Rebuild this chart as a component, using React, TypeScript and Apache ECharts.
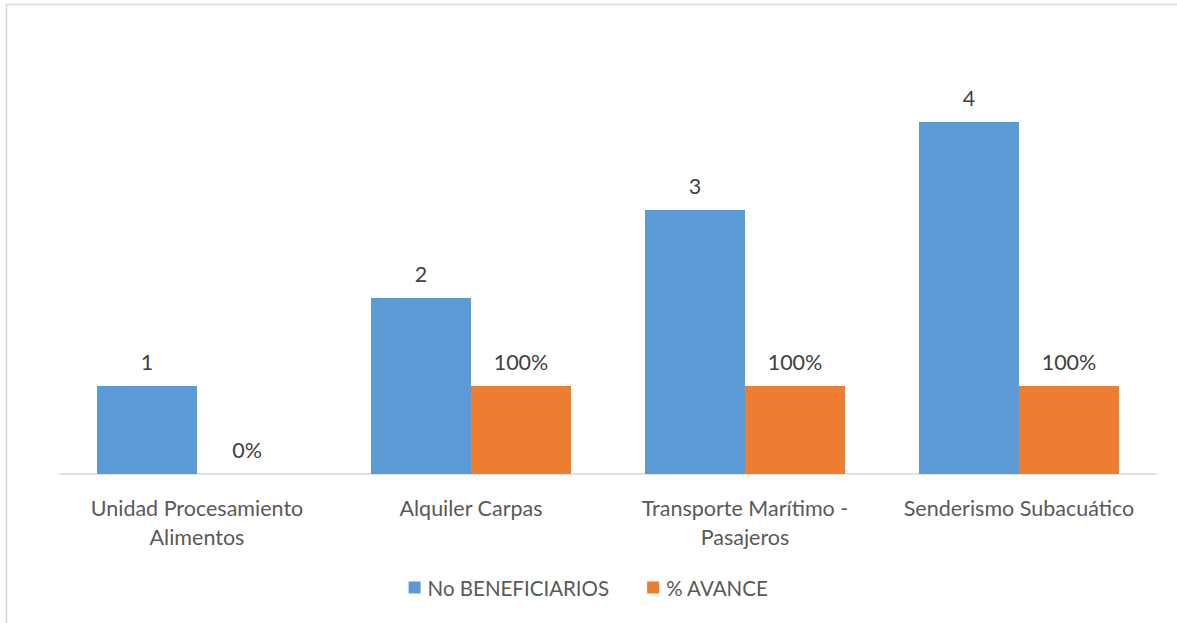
import React, { useEffect, useRef } from "react";
import * as echarts from "echarts";

const categories = [
  "Unidad Procesamiento\nAlimentos",
  "Alquiler Carpas",
  "Transporte Marítimo -\nPasajeros",
  "Senderismo Subacuático",
];
const beneficiarios = [1, 2, 3, 4];
const avance = [0, 1, 1, 1];
const seriesNames = ["No BENEFICIARIOS", "% AVANCE"];

export default function App() {
  const ref = useRef<HTMLDivElement>(null);
  useEffect(() => {
    document.body.style.margin = "0";
    const chart = echarts.init(ref.current!, null, { renderer: "svg" });
    const font = "Lato, 'Open Sans', sans-serif";
    chart.setOption({
      animation: false,
      backgroundColor: "#ffffff",
      graphic: [
        {
          type: "rect",
          shape: { x: 6.5, y: 4.5, width: 1300, height: 700 },
          style: { fill: "none", stroke: "#d9d9d9", lineWidth: 1.5 },
          silent: true,
        },
      ],
      legend: {
        bottom: 20,
        left: "center",
        itemWidth: 12,
        itemHeight: 12,
        itemGap: 38,
        icon: "rect",
        textStyle: { color: "#595959", fontSize: 20.5, fontFamily: font, padding: [0, 0, 0, 2] },
        data: seriesNames,
      },
      grid: { left: 60, right: 21, top: 34, height: 440, containLabel: false },
      xAxis: {
        type: "category",
        data: categories,
        axisLine: { lineStyle: { color: "#d9d9d9", width: 1.5 } },
        axisTick: { show: false },
        axisLabel: {
          color: "#595959",
          fontSize: 21.5,
          fontFamily: font,
          lineHeight: 29,
          margin: 19,
          interval: 0,
        },
      },
      yAxis: {
        type: "value",
        min: 0,
        max: 5,
        show: false,
        splitLine: { show: false },
      },
      series: [
        {
          name: seriesNames[0],
          type: "bar",
          data: beneficiarios,
          barWidth: 100,
          barGap: "0%",
          itemStyle: { color: "#5b9bd5" },
          label: {
            show: true,
            position: "top",
            distance: 13,
            color: "#404040",
            fontSize: 21.5,
            fontFamily: font,
          },
        },
        {
          name: seriesNames[1],
          type: "bar",
          data: avance,
          barWidth: 100,
          barGap: "0%",
          itemStyle: { color: "#ed7d31" },
          label: {
            show: true,
            position: "top",
            distance: 13,
            color: "#404040",
            fontSize: 21.5,
            fontFamily: font,
            formatter: (p: any) => Math.round(p.value * 100) + "%",
          },
        },
      ],
    });
    return () => chart.dispose();
  }, []);
  return (
    <div
      ref={ref}
      style={{ position: "absolute", left: 0, top: 0, width: 1177, height: 623 }}
    />
  );
}
